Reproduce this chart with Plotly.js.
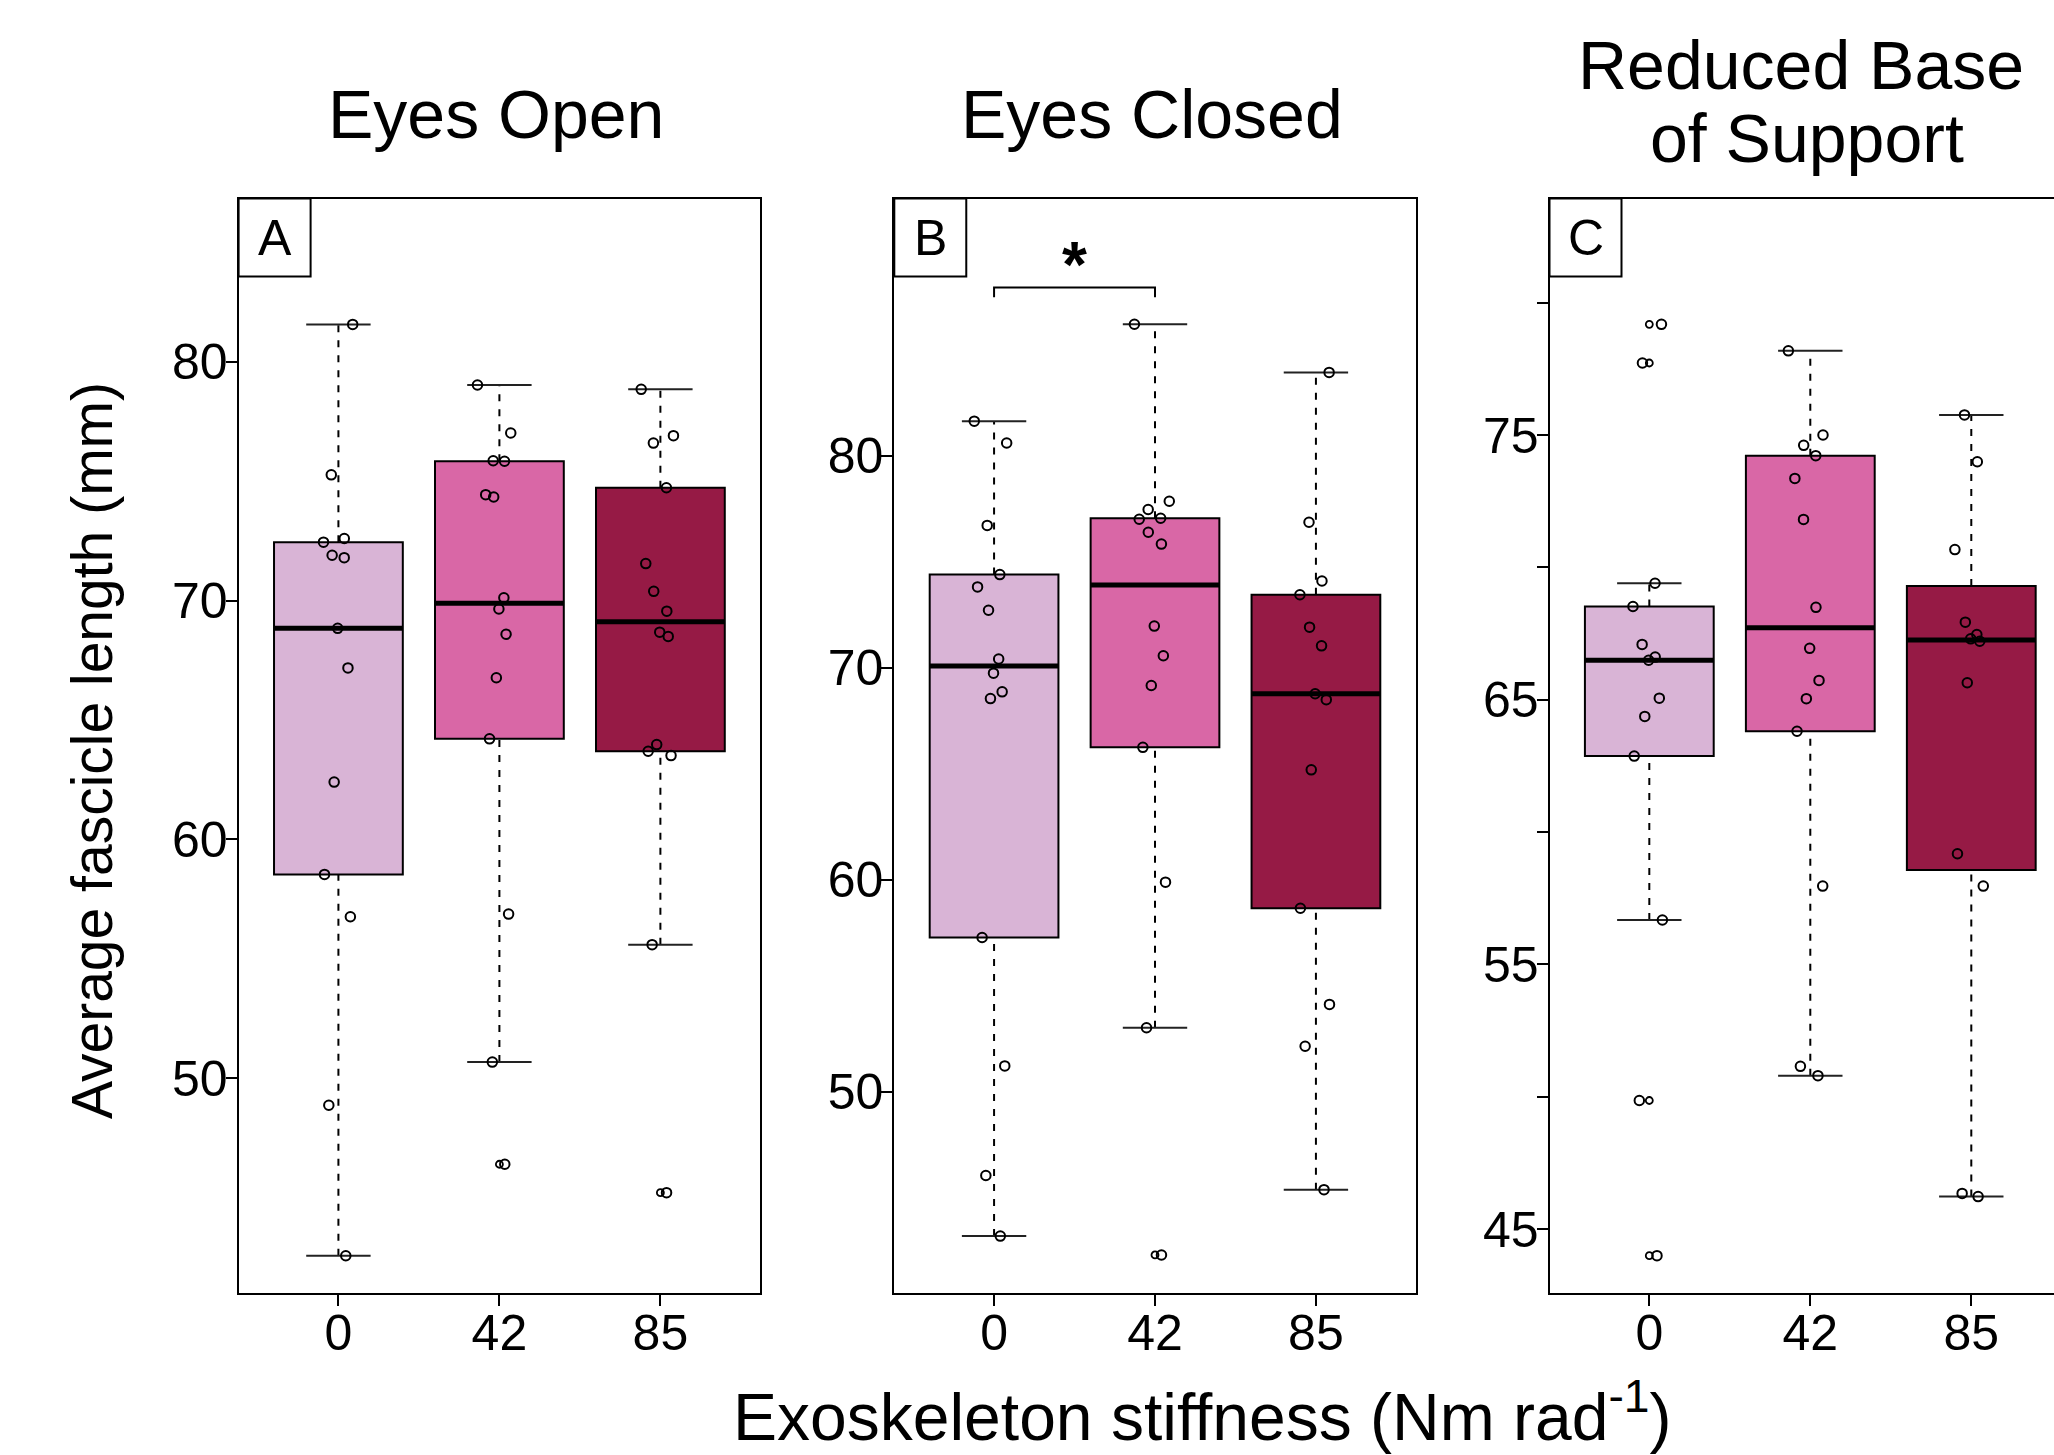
<!DOCTYPE html>
<html><head><meta charset="utf-8">
<script src="https://cdn.plot.ly/plotly-3.0.1.min.js"></script>
<style>
html,body{margin:0;padding:0;overflow:hidden;background:#fff;width:2054px;height:1455px}
#chart{width:2100px;height:1455px}
</style>
</head><body><div id="chart"></div><script>
// ---------------- data ----------------
const categories = ['0', '42', '85'];
const panelTitles = ['Eyes Open', 'Eyes Closed', 'Reduced Base', 'of Support'];
const panelLetters = ['A', 'B', 'C'];
const xAxisTitle = 'Exoskeleton stiffness (Nm rad<sup>-1</sup>)';
const yAxisTitle = 'Average fascicle length (mm)';
const sigMark = '*';

const eyesOpen0   = [81.57, 75.27, 72.6, 72.45, 71.9, 71.8, 68.84, 67.18, 62.4, 58.53, 56.76, 48.86, 42.56];
const eyesOpen42  = [79.03, 77.02, 75.86, 75.84, 74.44, 74.34, 70.12, 69.65, 68.59, 66.77, 64.21, 56.87, 50.67, 46.39];
const eyesOpen85  = [78.85, 76.91, 76.6, 74.73, 71.55, 70.39, 69.56, 68.68, 68.5, 63.97, 63.69, 63.51, 55.59, 45.2];

const eyesClosed0  = [81.63, 80.6, 76.71, 74.39, 73.81, 72.71, 70.41, 69.74, 68.86, 68.54, 57.27, 51.21, 46.04, 43.18];
const eyesClosed42 = [86.2, 77.85, 77.46, 77.05, 77.0, 76.39, 75.83, 71.96, 70.56, 69.16, 66.24, 59.88, 53.01, 42.29];
const eyesClosed85 = [83.93, 76.86, 74.09, 73.44, 71.91, 71.03, 68.77, 68.49, 65.18, 58.65, 54.11, 52.14, 45.37];

const reducedBase0  = [79.18, 77.72, 69.40, 68.52, 67.09, 66.61, 66.49, 65.06, 64.37, 62.87, 56.68, 49.86, 44.0];
const reducedBase42 = [78.18, 75.0, 74.61, 74.22, 73.36, 71.81, 68.49, 66.94, 65.73, 65.04, 63.81, 57.96, 51.15, 50.80];
const reducedBase85 = [75.76, 73.99, 70.67, 67.93, 67.46, 67.30, 67.21, 65.64, 59.18, 57.96, 46.35, 46.23];

const yTickValsA = [50, 60, 70, 80];
const yTickValsB = [50, 60, 70, 80];
const yTickValsC = [45, 55, 65, 75];   // labelled; unlabelled ticks every 5 in between
const yRangeA = [41.01, 86.84];
const yRangeB = [40.51, 92.13];
const yRangeC = [42.6, 83.93];
const sigPair = [1, 2];          // bracket between stiffness 0 and 42 (panel B)
const sigLevel = [87.47, 87.93]; // bracket foot / top, mm

const boxColors = ['#D9B4D6', '#D967A6', '#961A45'];

// ---------------- helpers ----------------
const W = 2100, H = 1455;
const FONT = 'Liberation Sans, Arial, Helvetica, sans-serif';
const px = v => v / W;
const py = v => 1 - v / H;

function fivenum(arr) {
  const s = [...arr].sort((a, b) => a - b), n = s.length;
  const n4 = Math.floor((n + 3) / 2) / 2;
  const d = [1, n4, (n + 1) / 2, n + 1 - n4, n];
  const f = d.map(v => 0.5 * (s[Math.floor(v) - 1] + s[Math.ceil(v) - 1]));
  const iqr = f[3] - f[1];
  const lo = s.find(v => v >= f[1] - 1.5 * iqr);
  const hi = [...s].reverse().find(v => v <= f[3] + 1.5 * iqr);
  return {q1: f[1], med: f[2], q3: f[3], lo, hi};
}

const panels = [
  {groups: [eyesOpen0, eyesOpen42, eyesOpen85], ax: '', dom: [238.6, 760.2], yr: yRangeA, tv: yTickValsA, minor: false},
  {groups: [eyesClosed0, eyesClosed42, eyesClosed85], ax: '2', dom: [894.3, 1415.7], yr: yRangeB, tv: yTickValsB, minor: false},
  {groups: [reducedBase0, reducedBase42, reducedBase85], ax: '3', dom: [1549.5, 2071.1], yr: yRangeC, tv: yTickValsC, minor: true}
];

const traces = [], shapes = [], annotations = [];
const layout = {
  width: W, height: H, margin: {l: 0, r: 0, t: 0, b: 0},
  paper_bgcolor: '#fff', plot_bgcolor: '#fff', showlegend: false,
  boxmode: 'overlay', font: {family: FONT, color: '#000'}
};

const yDom = [py(1292.7), py(198.6)];

panels.forEach((p, pi) => {
  const xa = 'x' + p.ax, ya = 'y' + p.ax;
  layout['xaxis' + p.ax] = {
    domain: [px(p.dom[0]), px(p.dom[1])], anchor: ya, range: [0.38, 3.62],
    tickmode: 'array', tickvals: [1, 2, 3], ticktext: categories, ticks: 'outside', ticklen: 11, tickwidth: 2, tickcolor: '#000',
    ticklabelstandoff: -16,
    showline: true, linecolor: '#000', linewidth: 2, mirror: true, showgrid: false, zeroline: false,
    tickfont: {family: FONT, size: 50, color: '#000'}, fixedrange: true
  };
  const yax = {
    domain: yDom, anchor: xa, range: p.yr, tickmode: 'array', tickvals: p.tv, ticktext: p.tv.map(String),
    ticks: 'outside', ticklen: 11, tickwidth: 2, tickcolor: '#000', ticklabelstandoff: -12,
    showline: true, linecolor: '#000', linewidth: 2, mirror: true, showgrid: false, zeroline: false,
    tickfont: {family: FONT, size: 50, color: '#000'}, fixedrange: true
  };
  if (p.minor) {
    yax.minor = {tickmode: 'linear', tick0: 45, dtick: 5, ticks: 'outside', ticklen: 11, tickwidth: 2, tickcolor: '#000', showgrid: false};
  }
  layout['yaxis' + p.ax] = yax;

  p.groups.forEach((vals, gi) => {
    const pos = gi + 1, st = fivenum(vals);
    // box body
    shapes.push({type: 'rect', xref: xa, yref: ya, x0: pos - 0.4, x1: pos + 0.4, y0: st.q1, y1: st.q3,
      fillcolor: boxColors[gi], line: {color: '#000', width: 2}, layer: 'below'});
    // whiskers
    shapes.push({type: 'line', xref: xa, yref: ya, x0: pos, x1: pos, y0: st.q3, y1: st.hi,
      line: {color: '#000', width: 2, dash: '7px,8px'}, layer: 'below'});
    shapes.push({type: 'line', xref: xa, yref: ya, x0: pos, x1: pos, y0: st.lo, y1: st.q1,
      line: {color: '#000', width: 2, dash: '7px,8px'}, layer: 'below'});
    // staples
    [st.hi, st.lo].forEach(v => shapes.push({type: 'line', xref: xa, yref: ya, x0: pos - 0.2, x1: pos + 0.2, y0: v, y1: v,
      line: {color: '#222', width: 2}, layer: 'below'}));
    // median
    shapes.push({type: 'line', xref: xa, yref: ya, x0: pos - 0.4, x1: pos + 0.4, y0: st.med, y1: st.med,
      line: {color: '#000', width: 5}, layer: 'below'});

    // jittered individual points
    traces.push({type: 'box', xaxis: xa, yaxis: ya, x0: pos, y: vals, width: 0.8,
      boxpoints: 'all', jitter: 0.35, pointpos: 0, quartilemethod: 'inclusive',
      fillcolor: 'rgba(0,0,0,0)', line: {width: 0, color: 'rgba(0,0,0,0)'},
      marker: {symbol: 'circle', size: 9.5, color: 'rgba(0,0,0,0)', line: {color: '#000', width: 2}},
      hoverinfo: 'skip', showlegend: false});
    // boxplot outliers drawn on the centre line
    traces.push({type: 'box', xaxis: xa, yaxis: ya, x0: pos, y: vals, width: 0.8,
      boxpoints: 'outliers', jitter: 0, pointpos: 0, quartilemethod: 'inclusive',
      fillcolor: 'rgba(0,0,0,0)', line: {width: 0, color: 'rgba(0,0,0,0)'},
      marker: {symbol: 'circle', size: 7, color: 'rgba(0,0,0,0)', line: {color: '#000', width: 1.8}},
      hoverinfo: 'skip', showlegend: false});
  });

  // panel letter box
  shapes.push({type: 'rect', xref: xa + ' domain', yref: ya + ' domain', x0: 0, x1: 72 / 521.6, y0: 1 - 78 / 1094.1, y1: 1,
    fillcolor: '#fff', line: {color: '#000', width: 2}});
  annotations.push({xref: 'paper', yref: 'paper', x: px(p.dom[0] + 36), y: py(238), xanchor: 'center', yanchor: 'middle',
    text: panelLetters[pi], showarrow: false, font: {family: FONT, size: 50, color: '#000'}});
});

// significance bracket (panel B)
shapes.push({type: 'path', xref: 'x2', yref: 'y2',
  path: `M ${sigPair[0]},${sigLevel[0]} L ${sigPair[0]},${sigLevel[1]} L ${sigPair[1]},${sigLevel[1]} L ${sigPair[1]},${sigLevel[0]}`,
  line: {color: '#000', width: 2}});
annotations.push({xref: 'x2', yref: 'y2', x: (sigPair[0] + sigPair[1]) / 2, y: 89.0, xanchor: 'center', yanchor: 'middle',
  text: '<b>' + sigMark + '</b>', showarrow: false, font: {family: FONT, size: 64, color: '#000'}});

// panel titles
const titleFont = {family: FONT, size: 68, color: '#000'};
annotations.push({xref: 'paper', yref: 'paper', x: px(495.5), y: py(114), xanchor: 'center', yanchor: 'middle', text: panelTitles[0], showarrow: false, font: titleFont});
annotations.push({xref: 'paper', yref: 'paper', x: px(1152), y: py(114), xanchor: 'center', yanchor: 'middle', text: panelTitles[1], showarrow: false, font: titleFont});
annotations.push({xref: 'paper', yref: 'paper', x: px(1800.5), y: py(65), xanchor: 'center', yanchor: 'middle', text: panelTitles[2], showarrow: false, font: titleFont});
annotations.push({xref: 'paper', yref: 'paper', x: px(1807), y: py(138), xanchor: 'center', yanchor: 'middle', text: panelTitles[3], showarrow: false, font: titleFont});

// axis titles
annotations.push({xref: 'paper', yref: 'paper', x: px(1202), y: py(1412), xanchor: 'center', yanchor: 'middle', text: xAxisTitle, showarrow: false, font: {family: FONT, size: 66, color: '#000'}});
annotations.push({xref: 'paper', yref: 'paper', x: px(92), y: py(751), xanchor: 'center', yanchor: 'middle', textangle: -90, text: yAxisTitle, showarrow: false, font: {family: FONT, size: 57, color: '#000'}});

layout.shapes = shapes;
layout.annotations = annotations;

Plotly.newPlot('chart', traces, layout, {staticPlot: true, displayModeBar: false});
</script></body></html>
